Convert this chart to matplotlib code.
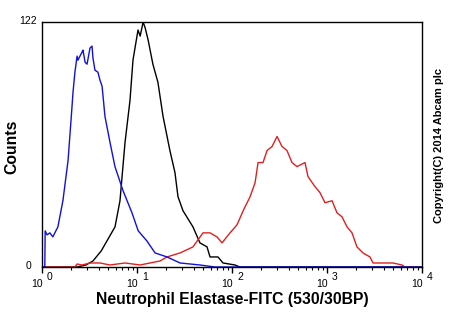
import matplotlib
matplotlib.use("Agg")
import matplotlib.pyplot as plt
from matplotlib.ticker import LogLocator, FixedLocator, NullFormatter

plt.rcParams['font.family'] = ['Liberation Sans', 'DejaVu Sans']

# Blue histogram (isotype / unstained)
blue_x = [1.0, 1.07, 1.08, 1.13, 1.21, 1.30, 1.47, 1.66, 1.88, 2.02, 2.07, 2.12, 2.22, 2.34,
          2.39, 2.51, 2.64, 2.70, 2.84, 2.98, 3.20, 3.36, 3.44, 3.61, 3.88, 4.08, 4.29,
          4.60, 5.20, 5.86, 7.13, 8.85, 10.3, 12.7, 15.5, 20.7, 28.4, 46.0, 66.2, 10000]
blue_y = [0, 0, 18, 16, 17, 15, 20, 33, 53, 73, 80, 87, 97, 105, 103, 105, 107, 108, 102,
          101, 109, 110, 104, 98, 97, 93, 90, 75, 62, 50, 38, 27, 18, 13, 7, 5, 2, 1, 0, 0]

# Black histogram (unlabelled control)
black_x = [1.0, 2.34, 2.9, 3.44, 4.2, 4.83, 5.87, 6.62, 7.48, 8.44, 9.07, 9.6, 10.25, 10.8,
           11.6, 12.2, 13.1, 14.7, 16.6, 18.8, 22.2, 25.1, 27.0, 30.5, 38.8, 46.0, 54.6,
           58.7, 71.2, 80.4, 107.6, 121, 10000]
black_y = [0, 0, 1, 3, 8, 13, 20, 33, 62, 83, 103, 110, 118, 115, 122, 119, 113, 101, 92,
           75, 58, 47, 35, 28, 20, 12, 10, 5, 5, 2, 1, 0, 0]

# Red histogram (Neutrophil Elastase-FITC)
red_x = [1.0, 2.22, 2.34, 2.64, 3.2, 4.08, 5.2, 7.48, 10.8, 13.7, 17.5, 20.7, 28.4, 38.8,
         49.5, 58.7, 69.5, 78.5, 95.3, 113, 131, 155, 175, 188, 212, 234, 264, 298, 336,
         379, 428, 483, 587, 631, 748, 844, 953, 1130, 1274, 1438, 1624, 1833, 2069, 2392,
         2836, 3050, 4950, 6150, 6610, 10000]
red_y = [0, 0, 1.5, 1, 2, 2, 1, 2, 1, 2, 3, 5, 7, 10, 17, 17, 15, 12, 17, 21, 28, 35, 42,
         52, 52, 58, 60, 65, 60, 58, 52, 50, 52, 45, 40, 37, 32, 33, 27, 25, 20, 17, 10, 7,
         5, 2, 2, 1, 0, 0]

x_ticks = [1, 10, 100, 1000, 10000]
x_tick_exponents = ['0', '1', '2', '3', '4']
y_ticks = [0, 122]

fig = plt.figure(figsize=(4.5, 3.3), dpi=100)
ax = fig.add_axes([42/450, 63/330, 380/450, 245/330])

ax.plot(black_x, black_y, color='black', lw=1.0)
ax.plot(red_x, red_y, color='#e02020', lw=1.0)
ax.plot(blue_x, blue_y, color='#1010e0', lw=1.0)

ax.set_xscale('log')
ax.set_xlim(1, 10000)
ax.set_ylim(0, 122)

ax.xaxis.set_major_locator(FixedLocator(x_ticks))
ax.xaxis.set_major_formatter(NullFormatter())
ax.xaxis.set_minor_locator(LogLocator(base=10, subs=range(2, 10), numticks=20))
ax.xaxis.set_minor_formatter(NullFormatter())
ax.tick_params(axis='x', which='major', direction='out', length=4, width=1)
ax.tick_params(axis='x', which='minor', direction='out', length=2.5, width=0.8)

# "10" with same-size raised exponent, as in the source instrument software
xt = ax.get_xaxis_transform()
for t, e in zip(x_ticks, x_tick_exponents):
    ax.annotate('10', xy=(t, 0), xycoords=xt, xytext=(0.5, -14.6), textcoords='offset points',
                ha='right', va='baseline', fontsize=7.5, annotation_clip=False)
    ax.annotate(e, xy=(t, 0), xycoords=xt, xytext=(3.6, -9.4), textcoords='offset points',
                ha='left', va='baseline', fontsize=7.5, annotation_clip=False)

ax.set_yticks(y_ticks)
ax.yaxis.set_major_formatter(NullFormatter())
ax.tick_params(axis='y', length=0)
yt = ax.get_yaxis_transform()
ax.annotate(str(y_ticks[1]), xy=(0, y_ticks[1]), xycoords=yt, xytext=(-3.6, 0.5),
            textcoords='offset points', ha='right', va='center', fontsize=7.5,
            annotation_clip=False)
ax.annotate(str(y_ticks[0]), xy=(0, y_ticks[0]), xycoords=yt, xytext=(-8, 0.5),
            textcoords='offset points', ha='right', va='center', fontsize=7.5,
            annotation_clip=False)

ax.set_xlabel('Neutrophil Elastase-FITC (530/30BP)', fontsize=11.3, fontweight='bold')
ax.xaxis.set_label_coords(0.5, -0.104)
ax.set_ylabel('Counts', fontsize=11.3, fontweight='bold')
ax.yaxis.set_label_coords(-0.06, 0.49)

for s in ax.spines.values():
    s.set_linewidth(1.0)
    s.set_color('black')

fig.text(439/450, 1 - 145/330, 'Copyright(C) 2014 Abcam plc', rotation=90,
         fontsize=8, fontweight='bold', ha='center', va='center')

fig.savefig('out.png', dpi=100)
